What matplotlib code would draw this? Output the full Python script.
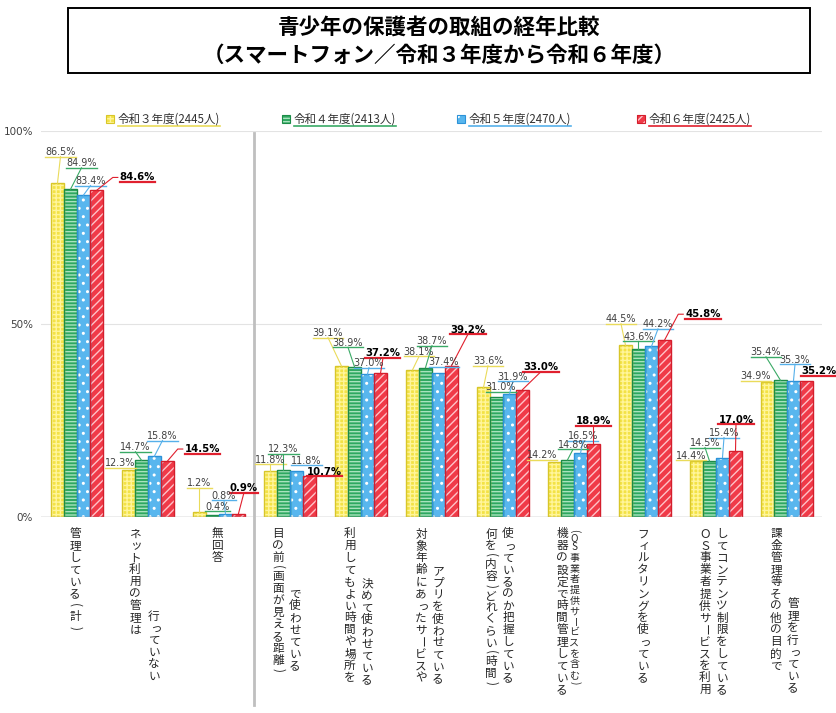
import matplotlib
matplotlib.use('Agg')
import matplotlib.pyplot as plt
from matplotlib.patches import Rectangle
from matplotlib.lines import Line2D
from matplotlib.transforms import blended_transform_factory
import numpy as np

plt.rcParams['font.family'] = ['Noto Sans CJK JP', 'DejaVu Sans']
plt.rcParams['hatch.linewidth'] = 1.0

W, H = 837, 713

# ---------------- data ----------------
title_lines = ['青少年の保護者の取組の経年比較',
               '（スマートフォン／令和３年度から令和６年度）']
series_names = ['令和３年度(2445人)', '令和４年度(2413人)',
                '令和５年度(2470人)', '令和６年度(2425人)']
category_lines = [
    ['管理している（計）'],
    ['ネット利用の管理は', '行っていない'],
    ['無回答'],
    ['目の前(画面が見える距離)', 'で使わせている'],
    ['利用してもよい時間や場所を', '決めて使わせている'],
    ['対象年齢にあったサービスや', 'アプリを使わせている'],
    ['何を(内容)どれくらい(時間)', '使っているのか把握している'],
    ['機器の設定で時間管理している', '(OS事業者提供サービスを含む)'],
    ['フィルタリングを使っている'],
    ['ＯＳ事業者提供サービスを利用', 'してコンテンツ制限をしている'],
    ['課金管理等その他の目的で', '管理を行っている'],
]
r3 = [86.5, 12.3, 1.2, 11.8, 39.1, 38.1, 33.6, 14.2, 44.5, 14.4, 34.9]
r4 = [84.9, 14.7, 0.4, 12.3, 38.9, 38.7, 31.0, 14.8, 43.6, 14.5, 35.4]
r5 = [83.4, 15.8, 0.8, 11.8, 37.0, 37.4, 31.9, 16.5, 44.2, 15.4, 35.3]
r6 = [84.6, 14.5, 0.9, 10.7, 37.2, 39.2, 33.0, 18.9, 45.8, 17.0, 35.2]
y_ticks = [0, 50, 100]
y_tick_labels = ['0%', '50%', '100%']

series_values = [r3, r4, r5, r6]

# ---------------- styles ----------------
face_colors = ['#F3E246', '#2EA860', '#58B6EE', '#F03A48']
hatch_colors = ['#FFF59A', '#A8E2BD', '#FFFFFF', '#FFC2C8']
edge_colors = ['#D8C62A', '#1D8C48', '#2C92D8', '#D41E2C']
line_colors = ['#EADB5A', '#3AAA66', '#56B0EA', '#E0202E']
hatches = ['++++', '-----', '..', '////']

# label placement offsets in pixels relative to bar top: (dx right, dy up)
label_offsets = [
    [(3, 31), (-8, 6.5), (0, 29), (0, 11.5), (-13.5, 33), (6.5, 18), (4.5, 26), (-12.5, 7), (-4.5, 26), (-5.5, 5.5), (-11.5, 6)],
    [(11, 26), (-6, 13), (5, 8.5), (0, 20.5), (-6.5, 24), (6.5, 26.5), (4.5, 10), (5.5, 15), (0, 12), (-4.5, 18), (-14.5, 28)],
    [(7, 14), (8, 20), (-1.5, 18), (10, 10.5), (1.5, 11), (5.5, 10.5), (3.5, 17), (2.5, 17), (6.5, 22), (1.5, 24.5), (1.5, 21)],
    [(41, 13), (35, 12), (5.5, 25.5), (15, 4), (2.5, 20), (16.5, 36), (18.5, 22.5), (0, 23), (38.5, 26), (0.5, 31.5), (12.5, 10)],
]
# category label columns: (dx px from group centre, dy px from top)
cat_cols = [
    [(-2, 0)],
    [(-13, 0), (6, 82)],
    [(-2, 0)],
    [(-12, 0), (5, 60)],
    [(-11, 0), (6, 50)],
    [(-11, 0), (6, 37)],
    [(-12, 0), (5, 0)],
    [(-12, 0), (0.5, 0)],
    [(-2, 0)],
    [(-11, 0), (6, 0)],
    [(-11, 0), (6, 70)],
]

fig = plt.figure(figsize=(W / 100, H / 100), dpi=100)
fig.patch.set_facecolor('white')

# title box
fig.add_artist(Rectangle((68 / W, 1 - 73 / H), (810 - 68) / W, 65 / H,
                         transform=fig.transFigure, fill=False,
                         edgecolor='black', linewidth=1.4))
fig.text(439 / W, 1 - 27 / H, title_lines[0], ha='center', va='center',
         fontsize=15.5, fontweight='bold', color='black')
fig.text(439 / W, 1 - 55 / H, title_lines[1], ha='center', va='center',
         fontsize=15.5, fontweight='bold', color='black')

# axes
ax = fig.add_axes([41.5 / W, 1 - 517 / H, 781 / W, 386 / H])
ax.set_xlim(-0.5, 10.5)
ax.set_ylim(0, 100)
for s in ax.spines.values():
    s.set_visible(False)
ax.set_xticks([])
ax.set_yticks(y_ticks, y_tick_labels)
ax.tick_params(axis='y', length=0, pad=6, labelsize=7.5, labelcolor='#404040')
for t in ax.get_yticklabels():
    t.set_fontfamily('DejaVu Sans')
ax.axhline(50, color='#E3E3E3', lw=0.8, zorder=0)
ax.axhline(100, color='#E3E3E3', lw=0.8, zorder=0)
ax.axhline(0, color='#A6A6A6', lw=1.0, zorder=4)

n = len(r3)
x = np.arange(n)
w = 13 / 71
for i, vals in enumerate(series_values):
    xs = x + (i - 1.5) * w
    ax.bar(xs, vals, w, color=face_colors[i], edgecolor=hatch_colors[i],
           linewidth=0, hatch=hatches[i], zorder=2)
    ax.bar(xs, vals, w, fill=False, edgecolor=edge_colors[i],
           linewidth=1.0, zorder=3)

# separator line
trans = blended_transform_factory(ax.transData, fig.transFigure)
fig.add_artist(Line2D([2.5, 2.5], [1 - 705 / H, 1 - 133 / H], transform=trans,
                      color='#BFBFBF', lw=2.0))

# legend
leg_x = [110, 286, 461, 641]
leg_items = []
for i, name in enumerate(series_names):
    fig.add_artist(Rectangle(((leg_x[i] - 4) / W, 1 - 123 / H), 8 / W, 8 / H,
                             transform=fig.transFigure, facecolor=face_colors[i],
                             edgecolor=hatch_colors[i], hatch=hatches[i], linewidth=0))
    fig.add_artist(Rectangle(((leg_x[i] - 4) / W, 1 - 123 / H), 8 / W, 8 / H,
                             transform=fig.transFigure, fill=False,
                             edgecolor=edge_colors[i], linewidth=0.8))
    t = fig.text((leg_x[i] + 8) / W, 1 - 119 / H, name, ha='left', va='center',
                 fontsize=8.3, color='#333333')
    leg_items.append((t, line_colors[i]))

# data labels
label_items = []
for i, vals in enumerate(series_values):
    for j, v in enumerate(vals):
        bx, by = ax.transData.transform((x[j] + (i - 1.5) * w, v))
        dx, dy = label_offsets[i][j]
        bold = (i == 3)
        t = fig.text((bx + dx) / W, (by + dy) / H, f'{v:.1f}%',
                     ha='center', va='center',
                     fontsize=7.3 if bold else 6.9,
                     fontweight='bold' if bold else 'normal',
                     color='black' if bold else '#404040',
                     family='DejaVu Sans')
        label_items.append((t, bx, by, line_colors[i], bold))

# category labels (vertical writing)
small_kana = set('ッィォャュョっゃゅょァェ')
paren_map = {'（': '(', '）': ')'}


def tokens(text):
    out = []
    buf = ''
    for ch in text:
        if ch.isascii() and ch.isalnum():
            buf += ch
        else:
            if buf:
                out.append(buf)
                buf = ''
            out.append(ch)
    if buf:
        out.append(buf)
    return out


def draw_vertical(xc, ytop, text, fs, step):
    y = ytop
    for tok in tokens(text):
        glyph = tok
        ls = 1.0
        if len(tok) > 1:
            glyph = '\n'.join(tok)
            h, rot, ls = step * 0.9 * len(tok), 0, 0.72
        elif tok in '（）':
            glyph = paren_map[tok]
            h, rot = step * 0.9, -90
        elif tok in '()':
            h, rot = step * 0.55, -90
        elif tok == 'ー':
            h, rot = step, -90
        elif ord(tok) < 0x2000:
            h, rot = step * 0.62, 0
        else:
            h, rot = step, 0
        ddx = 1.5 if tok in small_kana else 0
        fig.text((xc + ddx) / W, 1 - (y + h / 2) / H, glyph, rotation=rot,
                 ha='center', va='center', ma='center', linespacing=ls,
                 fontsize=fs, color='#262626')
        y += h


for j, cols in enumerate(category_lines):
    gx, _ = ax.transData.transform((x[j], 0))
    for k, txt in enumerate(cols):
        dx, dy = cat_cols[j][k]
        small = (j == 7 and k == 1)
        draw_vertical(gx + dx, 528 + dy, txt, 7.2 if small else 8.4,
                      10.6 if small else 12.0)

# underlines and leader lines
fig.canvas.draw()
renderer = fig.canvas.get_renderer()
for t, c in leg_items:
    bb = t.get_window_extent(renderer)
    uly = bb.y0 - 0.5
    fig.add_artist(Line2D([bb.x0 / W, bb.x1 / W], [uly / H, uly / H],
                          color=c, lw=1.2))

for t, bx, by, c, bold in label_items:
    bb = t.get_window_extent(renderer)
    uly = bb.y0 + 0.5
    fig.add_artist(Line2D([bb.x0 / W, bb.x1 / W], [uly / H, uly / H],
                          color=c, lw=1.6 if bold else 1.0))
    cy = (bb.y0 + bb.y1) / 2
    if bx < bb.x0 - 5 and cy > by + 3:
        xs = [bx, bb.x0 - 7, bb.x0 - 2]
        ys = [by, cy, cy]
    elif bx > bb.x1 + 5 and cy > by + 3:
        xs = [bx, bb.x1 + 7, bb.x1 + 2]
        ys = [by, cy, cy]
    else:
        if uly - by < 6.5:
            continue
        xs = [bx, (bb.x0 + bb.x1) / 2]
        ys = [by, uly]
    fig.add_artist(Line2D([p / W for p in xs], [p / H for p in ys],
                          color=c, lw=0.8))

fig.savefig('out.png', dpi=100)
